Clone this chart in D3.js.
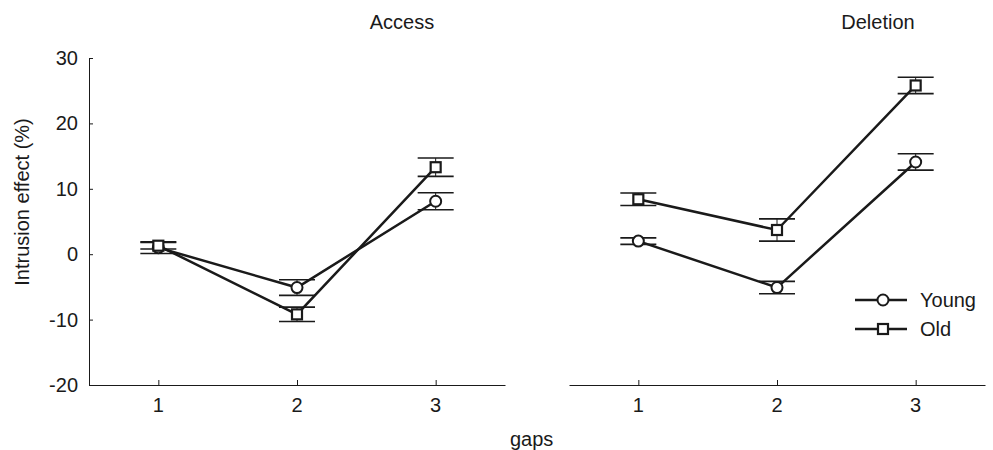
<!DOCTYPE html>
<html lang="en">
<head>
  <meta charset="UTF-8">
  <title>Intrusion effect by gaps</title>
  <style>
body { margin: 0; background: #fff; }
svg text { font-family: "Liberation Sans", Arial, sans-serif; fill: #1a1a1a; }
  </style>
</head>
<body>
  <div id="chart"></div>
  <script src="https://d3js.org/d3.v7.min.js"></script>
  <script>
const gaps = [1, 2, 3];
const panels = ["Access", "Deletion"];
const groups = ["Young", "Old"];

// means and standard errors
const accessYoung = [1.0, -5.1, 8.1];
const accessYoungErr = [0.9, 1.2, 1.3];
const accessOld = [1.3, -9.2, 13.3];
const accessOldErr = [0.5, 1.1, 1.4];
const deletionYoung = [2.0, -5.1, 14.1];
const deletionYoungErr = [0.5, 0.95, 1.25];
const deletionOld = [8.4, 3.7, 25.8];
const deletionOldErr = [0.95, 1.7, 1.25];

const yTicks = [-20, -10, 0, 10, 20, 30];

const width = 993, height = 450;
const ink = "#1a1a1a";

const svg = d3.select("#chart").append("svg")
  .attr("width", width)
  .attr("height", height);

const y = d3.scaleLinear().domain([-20, 30]).range([385, 58]);

const panelData = [
  { name: "Access", range: [89, 505], titleX: 402,
    series: [
      { group: "Young", values: accessYoung, err: accessYoungErr },
      { group: "Old", values: accessOld, err: accessOldErr }
    ] },
  { name: "Deletion", range: [569, 985], titleX: 878,
    series: [
      { group: "Young", values: deletionYoung, err: deletionYoungErr },
      { group: "Old", values: deletionOld, err: deletionOldErr }
    ] }
];

function marker(sel, group, cx, cy) {
  if (group === "Young") {
    sel.append("circle")
      .attr("cx", cx).attr("cy", cy).attr("r", 5.5)
      .attr("fill", "#fff").attr("stroke", ink).attr("stroke-width", 2);
  } else {
    sel.append("rect")
      .attr("x", cx - 5).attr("y", cy - 5)
      .attr("width", 10).attr("height", 10)
      .attr("fill", "#fff").attr("stroke", ink).attr("stroke-width", 2.2);
  }
}

panelData.forEach((p, pi) => {
  const x = d3.scaleLinear().domain([0.5, 3.5]).range(p.range);
  const g = svg.append("g");

  // x axis, ticks pointing inward
  const xAxis = g.append("g")
    .attr("transform", `translate(0,${y(-20)})`)
    .call(d3.axisTop(x).tickValues(gaps).tickSize(5).tickSizeOuter(0).tickFormat(""));
  xAxis.select(".domain").attr("stroke", ink);
  xAxis.selectAll(".tick line").attr("stroke", ink);

  g.selectAll(".xlab")
    .data(gaps)
    .join("text")
    .attr("x", d => x(d))
    .attr("y", 412)
    .attr("text-anchor", "middle")
    .style("font-size", "20px")
    .text(d => d);

  if (pi === 0) {
    const yAxis = g.append("g")
      .attr("transform", `translate(${p.range[0]},0)`)
      .call(d3.axisRight(y).tickValues(yTicks).tickSize(4).tickSizeOuter(0).tickFormat(""));
    yAxis.select(".domain").attr("stroke", ink);
    yAxis.selectAll(".tick line").attr("stroke", ink);

    g.selectAll(".ylab")
      .data(yTicks)
      .join("text")
      .attr("x", 78)
      .attr("y", d => y(d) + 7)
      .attr("text-anchor", "end")
      .style("font-size", "20px")
      .text(d => d);
  }

  g.append("text")
    .attr("x", p.titleX)
    .attr("y", 29)
    .attr("text-anchor", "middle")
    .style("font-size", "20px")
    .text(p.name);

  const line = d3.line()
    .x((d, i) => x(gaps[i]))
    .y(d => y(d));

  p.series.forEach(s => {
    g.append("path")
      .datum(s.values)
      .attr("fill", "none")
      .attr("stroke", ink)
      .attr("stroke-width", 2.5)
      .attr("d", line);
  });

  p.series.forEach(s => {
    s.values.forEach((v, i) => {
      const cx = x(gaps[i]);
      g.append("line")
        .attr("x1", cx).attr("x2", cx)
        .attr("y1", y(v + s.err[i])).attr("y2", y(v - s.err[i]))
        .attr("stroke", ink).attr("stroke-width", 1);
      [v + s.err[i], v - s.err[i]].forEach(e => {
        g.append("line")
          .attr("x1", cx - 18).attr("x2", cx + 18)
          .attr("y1", y(e)).attr("y2", y(e))
          .attr("stroke", ink).attr("stroke-width", 1.6);
      });
    });
  });

  p.series.forEach(s => {
    s.values.forEach((v, i) => marker(g, s.group, x(gaps[i]), y(v)));
  });
});

// axis titles
svg.append("text")
  .attr("transform", "translate(29,202) rotate(-90)")
  .attr("text-anchor", "middle")
  .style("font-size", "20px")
  .text("Intrusion effect (%)");

svg.append("text")
  .attr("x", 510)
  .attr("y", 446)
  .style("font-size", "20px")
  .text("gaps");

// legend
const legend = svg.append("g");
groups.forEach((grp, i) => {
  const ly = 300 + i * 29;
  legend.append("line")
    .attr("x1", 855).attr("x2", 907)
    .attr("y1", ly).attr("y2", ly)
    .attr("stroke", ink).attr("stroke-width", 2.5);
  marker(legend, grp, 883, ly);
  legend.append("text")
    .attr("x", 920)
    .attr("y", ly + 7)
    .style("font-size", "20px")
    .text(grp);
});
  </script>
</body>
</html>
